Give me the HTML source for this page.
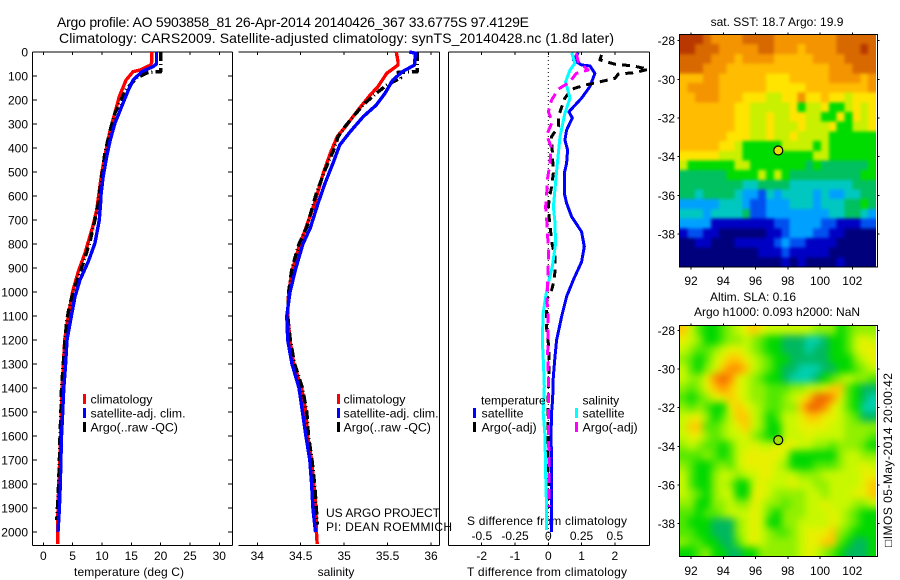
<!DOCTYPE html>
<html lang="en">
<head>
<meta charset="utf-8">
<title>Argo profile chart</title>
<style>
html,body{margin:0;padding:0;background:#fff;width:900px;height:580px;overflow:hidden}
svg{display:block}
text{font-family:"Liberation Sans",sans-serif;font-size:12px;fill:#000}
</style>
</head>
<body>
<svg id="chart" width="900" height="580" viewBox="0 0 900 580" xmlns="http://www.w3.org/2000/svg">
<defs>
<filter id="sstBlur" x="-10%" y="-10%" width="120%" height="120%" color-interpolation-filters="sRGB"><feGaussianBlur stdDeviation="1.6"/></filter>
<filter id="slaBlur" x="-10%" y="-10%" width="120%" height="120%" color-interpolation-filters="sRGB"><feGaussianBlur stdDeviation="4"/></filter>
<clipPath id="sstClip"><rect x="679.5" y="34.5" width="196.5" height="232.5"/></clipPath>
<clipPath id="slaClip"><rect x="679.5" y="325.5" width="196.5" height="231"/></clipPath>
</defs>
<text x="57" y="27" font-size="14" style="font-size:14px" textLength="472">Argo profile: AO 5903858_81 26-Apr-2014 20140426_367 33.6775S 97.4129E</text>
<text x="59" y="43" style="font-size:14px" textLength="555">Climatology: CARS2009. Satellite-adjusted climatology: synTS_20140428.nc (1.8d later)</text>
<text x="777" y="26" text-anchor="middle">sat. SST: 18.7 Argo: 19.9</text>
<text x="753" y="301" text-anchor="middle">Altim. SLA: 0.16</text>
<text x="777" y="316" text-anchor="middle">Argo h1000: 0.093 h2000: NaN</text>
<text x="74" y="576" textLength="110">temperature (deg C)</text>
<text x="336" y="576" text-anchor="middle">salinity</text>
<text x="467" y="576" textLength="160">T difference from climatology</text>
<text x="467" y="525" textLength="160">S difference from climatology</text>
<text x="326" y="517" textLength="114">US ARGO PROJECT</text>
<text x="326" y="531" textLength="126">PI: DEAN ROEMMICH</text>
<text transform="translate(892,547) rotate(-90)" textLength="174" style="font-family:'Liberation Sans','DejaVu Sans',sans-serif">□IMOS 05-May-2014 20:00:42</text>
</svg>
<script>
const depthTicks = [0,100,200,300,400,500,600,700,800,900,1000,1100,1200,1300,1400,1500,1600,1700,1800,1900,2000];
const tempTicks = [0,5,10,15,20,25,30];
const salTicks = [34,34.5,35,35.5,36];
const salTickLabels = ['34','34.5','35','35.5','36'];
const diffTTicks = [-2,-1,0,1,2];
const diffSTicks = [-0.5,-0.25,0,0.25,0.5];
const diffSTickLabels = ['-0.5','-0.25','0','0.25','0.5'];
const lonTicks = [92,94,96,98,100,102];
const sstLatTicks = [-28,-30,-32,-34,-36,-38];
const slaLatTicks = [-28,-30,-32,-34,-36,-38];

const tempClimDepth = [0,40,54,75,82,117,186,228,325,408,505,588,658,721,838,915,999,1061,1138,1200,1400,1500,1600,1700,1800,1900,2000,2050];
const tempClimValue = [18.5,18.5,18.3,16.5,15.3,14.1,12.95,12.5,11.4,10.7,9.95,9.5,9.1,8.5,7.1,5.96,5.0,4.55,4.0,3.65,3.2,3.1,2.95,2.8,2.65,2.5,2.45,2.45];
const tempSatDepth = [0,50,61,82,117,158,228,297,367,436,520,603,617,700,797,873,950,1019,1117,1200,1300,1400,1500,1600,1700,1800,1900,2000];
const tempSatValue = [19.3,19.3,18.7,16.8,15.3,14.5,13.35,12.2,11.4,10.8,10.2,9.8,9.8,9.55,8.8,7.67,6.25,5.4,4.66,4.04,3.8,3.5,3.3,3.1,3.0,2.9,2.75,2.5];
const tempArgoDepth = [0,82,85,105,152,192,255,325,421,520,603,630,700,790,880,956,1047,1117,1200,1400,1500,1600,1700,1800,1900,1950];
const tempArgoValue = [20.0,20.0,17.9,16.1,14.2,13.4,12.2,11.4,10.5,9.95,9.5,9.4,8.8,7.96,6.8,5.7,4.55,4.0,3.7,3.1,3.0,2.85,2.75,2.6,2.4,2.3];

const salClimDepth = [0,40,54,89,144,179,242,304,353,422,505,630,733,800,900,1000,1100,1200,1300,1400,1500,1600,1700,1800,1900,2000,2050];
const salClimValue = [35.6,35.62,35.62,35.49,35.39,35.3,35.16,35.03,34.92,34.84,34.76,34.66,34.56,34.49,34.41,34.36,34.35,34.376,34.42,34.51,34.56,34.58,34.625,34.65,34.675,34.68,34.69];
const salSatDepth = [0,5,54,82,117,172,221,269,332,387,464,547,630,733,800,900,1000,1100,1200,1300,1400,1500,1600,1700,1800,1900,2000];
const salSatValue = [35.75,35.82,35.81,35.67,35.56,35.47,35.37,35.22,35.07,34.95,34.87,34.78,34.7,34.61,34.525,34.445,34.376,34.34,34.35,34.4,34.48,34.52,34.56,34.605,34.625,34.64,34.67];
const salArgoDepth = [0,82,85,108,138,172,213,262,311,353,400,492,588,729,800,900,1000,1100,1200,1300,1400,1500,1600,1700,1800,1900,1970];
const salArgoValue = [35.84,35.84,35.62,35.65,35.49,35.37,35.24,35.12,35.01,34.93,34.89,34.78,34.68,34.57,34.48,34.4,34.36,34.35,34.38,34.43,34.52,34.57,34.59,34.63,34.66,34.68,34.69];

const diffTSatDepth = [3,33,54,58,89,144,192,249,275,325,367,408,464,505,588,630,686,749,811,874,950,1019,1103,1200,1270,1353,1450,1500,1600,1700,1800,1900,2000];
const diffTSatValue = [0.9,0.75,1.0,1.25,1.4,1.25,1.0,0.62,0.72,0.55,0.5,0.58,0.55,0.48,0.48,0.55,0.7,1.0,1.08,1.0,0.75,0.55,0.4,0.25,0.2,0.15,0.13,0.1,0.08,0.1,0.1,0.1,0.1];
const diffTArgoDepth = [12,33,51,58,72,86,92,110,124,138,155,192,269,311,353,505,561,617,658,721,762,804,853,908,950,992,1033,1096,1150,1213,1270,1330,1400,1629,1780,1900];
const diffTArgoValue = [1.6,1.55,2.0,2.55,3.0,2.6,2.1,2.0,1.55,1.1,0.7,0.5,0.3,0.3,0.1,0.15,0.1,0.02,0,0.05,0.08,0.12,0.2,0.2,0.18,0.1,-0.05,-0.05,-0.05,0,0.02,0.02,0,-0.01,0,0];
const diffSSatDepth = [3,47,75,124,192,255,353,492,645,708,797,894,992,1088,1200,1311,1394,1504,1600,1755,1921,1992];
const diffSSatValue = [0.176,0.2,0.163,0.13,0.163,0.125,0.088,0.063,0.038,0.05,0.055,0.03,-0.012,-0.038,-0.045,-0.035,-0.03,-0.038,-0.025,-0.02,-0.012,-0.012];
const diffSArgoDepth = [5,40,75,89,124,155,200,249,290,346,394,464,525,588,645,700,762,825,888,950,1033,1075,1145,1270,1340,1400,1783,1895];
const diffSArgoValue = [0.21,0.225,0.3,0.21,0.163,0.075,0.025,0,0.03,-0.012,0.02,0.013,-0.005,-0.012,-0.02,-0.012,-0.005,0,0,-0.005,-0.01,-0.005,0,-0.005,0,0,0.005,0.005];

const sstLevelRows = [
'cccbaaaabbbbaaaaaaaabbbbb',
'ccbbbaaaaabbaaa9aaaabbbcb',
'bbbbaaa9aaaa99999aaaabbbb',
'bbbaaa9999999999999aaabbb',
'999aa99999988899999aaaa9a',
'9aaaa9999998888899999999a',
'99aaa9998887788a889887888',
'9999999887777786778667878',
'9999999887787788776686878',
'9999999887787778777866778',
'9999998887787787777666666',
'9999988766666777767666666',
'8888877766666666677666666',
'7666666776666666565555556',
'5555556666767655555555566',
'5555555544555544444444555',
'5545555433243444434334455',
'3333344432233344434445565',
'4443444452233333333445543',
'3333111111112233332211122',
'1221100000011233322110000',
'0011000111112322111100000',
'0000000000111211111000000',
'0000000000000101000010000'
];
const slaLevelRows = [
'7532234567655555544423444',
'6542234454322111001223565',
'5433456654322111011223566',
'4323567765432211111222456',
'5324578875432110001122345',
'5446898654322100012345443',
'4346787654433344556773211',
'3234667654433456799863210',
'4343226765433447998653200',
'5664235775423556776654311',
'5773345675422556666554444',
'5664345564322555655554443',
'4543323556556665544344432',
'3334323566666522222245544',
'4322343566665422233345565',
'5322455455665554445555566',
'5322454225655565544555567',
'5432455226654444554555667',
'4422445446544344556555445',
'3323345556532444555654322',
'3222111456522445555654322',
'3322111456543345666743222',
'4332211356544445667732112',
'2234221122444445654321112'
];
const sstPalette = ['#00007c','#0000c4','#0050f0','#00a0ff','#00c8c0','#00c060','#00dc00','#c8f000','#ffe400','#ffbc00','#f49400','#d86800','#b83800'];
const slaPalette = ['#00d0b0','#00b860','#00d800','#50e800','#90f000','#c8f800','#e8f000','#ffc800','#ff9000','#f06800'];

const NS = 'http://www.w3.org/2000/svg';
const svg = document.getElementById('chart');
function add(tag, attrs, name, parent) {
  const el = document.createElementNS(NS, tag);
  for (const k in attrs) el.setAttribute(k, attrs[k]);
  
  
  (parent || svg).appendChild(el);
  return el;
}
function label(x, y, str, anchor, name) {
  const t = add('text', {x: x, y: y, 'text-anchor': anchor}, name);
  t.textContent = str;
  return t;
}
function linear(d0, d1, r0, r1) {
  return v => r0 + (v - d0) * (r1 - r0) / (d1 - d0);
}
const yDepth = linear(0, 2000, 52, 532);
const xTemp = linear(0, 30, 43.3, 219.3);
const xSal = linear(34, 36, 257.3, 431);
const xDiffT = linear(0, 2, 548.3, 614.9);
const xDiffS = linear(0, 0.5, 548.3, 614.8);
const xLon = linear(92, 102, 691, 852.3);
const ySstLat = linear(-28, -38, 40.7, 234);
const ySlaLat = linear(-28, -38, 330.5, 523.5);

const panelBottom = 545.5, panelTop = 52;
function hline(x1, x2, y, name) {
  add('line', {x1: x1, x2: x2, y1: y, y2: y, stroke: '#000', 'stroke-width': 1, 'shape-rendering': 'crispEdges'}, name);
}
function vline(x, y1, y2, name) {
  add('line', {x1: x, x2: x, y1: y1, y2: y2, stroke: '#000', 'stroke-width': 1, 'shape-rendering': 'crispEdges'}, name);
}
function series(depths, values, xf, color, width, dash, name) {
  const pts = depths.map((d, i) => xf(values[i]).toFixed(1) + ',' + yDepth(d).toFixed(1)).join(' ');
  const attrs = {points: pts, fill: 'none', stroke: color, 'stroke-width': width, 'stroke-linejoin': 'round', 'shape-rendering': 'crispEdges'};
  if (dash) attrs['stroke-dasharray'] = dash;
  add('polyline', attrs, name);
}

/* temperature panel frame */
hline(32.5, 232.5, panelTop, 'temperature-panel-top');
hline(32.5, 232.5, panelBottom, 'temperature-panel-bottom');
vline(32.5, panelTop, panelBottom, 'temperature-panel-left');
vline(232.5, panelTop, panelBottom, 'temperature-panel-right');
depthTicks.forEach(d => {
  hline(32.5, 37, yDepth(d), 'depth-tick-left');
  hline(228, 232.5, yDepth(d), 'depth-tick-right');
  label(28, yDepth(d) + 4.5, String(d), 'end', 'depth-tick-label');
});
tempTicks.forEach(t => {
  vline(xTemp(t), panelTop, panelTop + 3, 'temperature-tick');
  vline(xTemp(t), panelBottom - 3, panelBottom, 'temperature-tick-bottom');
  label(xTemp(t), 560, String(t), 'middle', 'temperature-tick-label');
});

/* salinity panel frame */
hline(238.5, 439.5, panelTop, 'salinity-panel-top');
hline(238.5, 439.5, panelBottom, 'salinity-panel-bottom');
vline(439.5, panelTop, panelBottom, 'salinity-panel-right');
salTicks.forEach((s, i) => {
  vline(xSal(s), panelTop, panelTop + 3, 'salinity-tick');
  vline(xSal(s), panelBottom - 3, panelBottom, 'salinity-tick-bottom');
  label(xSal(s), 560, salTickLabels[i], 'middle', 'salinity-tick-label');
});

/* difference panel frame */
hline(448.5, 649.5, panelTop, 'difference-panel-top');
hline(448.5, 649.5, panelBottom, 'difference-panel-bottom');
vline(448.5, panelTop, panelBottom, 'difference-panel-left');
vline(649.5, panelTop, panelBottom, 'difference-panel-right');
diffTTicks.forEach(t => {
  vline(xDiffT(t), panelTop, panelTop + 3, 'difference-tick');
  vline(xDiffT(t), panelBottom - 3, panelBottom, 'difference-tick-bottom');
  label(xDiffT(t), 560, String(t), 'middle', 'difference-t-tick-label');
});
diffSTicks.forEach((s, i) => {
  label(xDiffS(s), 540, diffSTickLabels[i], 'middle', 'difference-s-tick-label');
});
add('line', {x1: xDiffT(0), x2: xDiffT(0), y1: panelTop, y2: panelBottom, stroke: '#000', 'stroke-width': 1, 'stroke-dasharray': '1 3'}, 'zero-difference-line');

/* series */
series(tempClimDepth, tempClimValue, xTemp, '#ff0000', 3.4, null, 'temperature-climatology-line');
series(tempArgoDepth, tempArgoValue, xTemp, '#000', 3.4, '9 3 1 3', 'temperature-argo-line');
series(tempSatDepth, tempSatValue, xTemp, '#0000ff', 3.4, null, 'temperature-satellite-line');
series(salClimDepth, salClimValue, xSal, '#ff0000', 3.4, null, 'salinity-climatology-line');
series(salArgoDepth, salArgoValue, xSal, '#000', 3.4, '9 3 1 3', 'salinity-argo-line');
series(salSatDepth, salSatValue, xSal, '#0000ff', 3.4, null, 'salinity-satellite-line');
series(diffTSatDepth, diffTSatValue, xDiffT, '#0000ff', 3, null, 'difference-t-satellite-line');
series(diffTArgoDepth, diffTArgoValue, xDiffT, '#000', 3, '8 6', 'difference-t-argo-line');
series(diffSSatDepth, diffSSatValue, xDiffS, '#00ffff', 3, null, 'difference-s-satellite-line');
series(diffSArgoDepth, diffSArgoValue, xDiffS, '#ff00ff', 3, '10 6', 'difference-s-argo-line');

/* legends */
function legendEntry(barX, textX, y, color, str, name) {
  add('rect', {x: barX, y: y - 5, width: 3, height: 10, fill: color, 'shape-rendering': 'crispEdges'}, name + '-swatch');
  const t = label(textX, y + 4.5, str, 'start', name + '-label');
  t.style.fontSize = '12.4px';
}
legendEntry(83, 90.5, 399, '#ff0000', 'climatology', 'temperature-legend-climatology');
legendEntry(83, 90.5, 413, '#0000ff', 'satellite-adj. clim.', 'temperature-legend-satellite');
legendEntry(83, 90.5, 427, '#000', 'Argo(..raw -QC)', 'temperature-legend-argo');
legendEntry(337, 343.5, 399, '#ff0000', 'climatology', 'salinity-legend-climatology');
legendEntry(337, 343.5, 413, '#0000ff', 'satellite-adj. clim.', 'salinity-legend-satellite');
legendEntry(337, 343.5, 427, '#000', 'Argo(..raw -QC)', 'salinity-legend-argo');
label(481, 404.5, 'temperature', 'start', 'difference-legend-temperature-heading');
label(582.5, 404.5, 'salinity', 'start', 'difference-legend-salinity-heading');
legendEntry(473, 481.5, 413, '#0000ff', 'satellite', 'difference-legend-t-satellite');
legendEntry(473, 481.5, 427, '#000', 'Argo(-adj)', 'difference-legend-t-argo');
legendEntry(575, 582.5, 413, '#00ffff', 'satellite', 'difference-legend-s-satellite');
legendEntry(575, 582.5, 427, '#ff00ff', 'Argo(-adj)', 'difference-legend-s-argo');

/* maps */
function drawMap(rows, palette, top, bottom, yLat, latTicks, tickLabelY, markerFill, clipId, blurId, name) {
  const left = 679.5, right = 876, frameRight = 877.5, bleed = 14;
  const nCols = rows[0].length, nRows = rows.length;
  const cw = (right - left) / nCols, ch = (bottom - top) / nRows;
  const clipGroup = add('g', {'clip-path': 'url(#' + clipId + ')'}, name + '-clip');
  const cellGroup = add('g', {filter: 'url(#' + blurId + ')'}, name + '-cells', clipGroup);
  rows.forEach((row, r) => {
    for (let c = 0; c < nCols; c++) {
      const level = parseInt(row[c], 16);
      const x0 = left + c * cw - (c === 0 ? bleed : 0);
      const x1 = left + (c + 1) * cw + (c === nCols - 1 ? bleed : 0);
      const y0 = top + r * ch - (r === 0 ? bleed : 0);
      const y1 = top + (r + 1) * ch + (r === nRows - 1 ? bleed : 0);
      add('rect', {
        x: x0.toFixed(2),
        y: y0.toFixed(2),
        width: (x1 - x0 + 0.4).toFixed(2),
        height: (y1 - y0 + 0.4).toFixed(2),
        fill: palette[level],
        'shape-rendering': 'crispEdges'
      }, name + '-cell', cellGroup);
    }
  });
  add('rect', {x: left, y: top, width: frameRight - left, height: bottom - top, fill: 'none', stroke: '#000', 'stroke-width': 1, 'shape-rendering': 'crispEdges'}, name + '-frame');
  lonTicks.forEach(lon => {
    vline(xLon(lon), bottom, bottom + 2.5, name + '-lon-tick');
    vline(xLon(lon), top - 2, top, name + '-lon-tick-top');
    label(xLon(lon), tickLabelY, String(lon), 'middle', name + '-lon-label');
  });
  latTicks.forEach(lat => {
    hline(left - 2, left, yLat(lat), name + '-lat-tick');
    hline(frameRight, frameRight + 2, yLat(lat), name + '-lat-tick-right');
    label(675, yLat(lat) + 4.5, String(lat), 'end', name + '-lat-label');
  });
  add('circle', {cx: xLon(97.41), cy: yLat(-33.68), r: 4.5, fill: markerFill, stroke: '#000', 'stroke-width': 1.2}, name + '-argo-marker');
}
drawMap(sstLevelRows, sstPalette, 34.5, 267, ySstLat, sstLatTicks, 285, '#e8e000', 'sstClip', 'sstBlur', 'sst-map');
drawMap(slaLevelRows, slaPalette, 325.5, 556.5, ySlaLat, slaLatTicks, 575, '#a0e000', 'slaClip', 'slaBlur', 'sla-map');
</script>
</body>
</html>
